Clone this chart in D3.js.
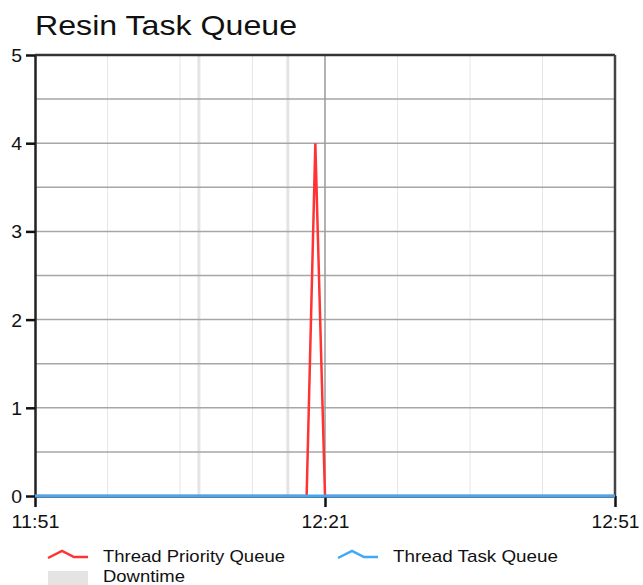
<!DOCTYPE html>
<html>
<head>
<meta charset="utf-8">
<script src="https://cdn.jsdelivr.net/npm/d3@7"></script>
<style>
  body { margin: 0; background: #fff; }
  svg { font-family: "Liberation Sans", Arial, sans-serif; }
</style>
</head>
<body>
<div id="chart"></div>
<script>
// series (minutes after 11:51, value)
const priorityTimes = [0, 10, 20, 28.1, 29, 30, 40, 50, 60];
const priorityValues = [0, 0, 0, 0, 4, 0, 0, 0, 0];
const taskTimes = [0, 10, 20, 30, 40, 50, 60];
const taskValues = [0, 0, 0, 0, 0, 0, 0];
// downtime blips (minutes after 11:51)
const downtimeStart = [16.8, 26.0];
const downtimeEnd = [17.1, 26.3];
const xTickLabels = ["11:51", "12:21", "12:51"];
const yTickValues = [0, 1, 2, 3, 4, 5];

const width = 643, height = 585;
const margin = { top: 55, right: 28, bottom: 89, left: 35 };
const innerW = width - margin.left - margin.right;
const innerH = height - margin.top - margin.bottom;

const t0 = new Date(2020, 0, 1, 11, 51);
const toDate = m => new Date(t0.getTime() + m * 60000);

const svg = d3.select("#chart").append("svg")
  .attr("width", width)
  .attr("height", height);

svg.append("text")
  .attr("x", 35).attr("y", 35)
  .attr("font-size", 28)
  .attr("textLength", 262).attr("lengthAdjust", "spacingAndGlyphs")
  .attr("fill", "#111")
  .text("Resin Task Queue");

const g = svg.append("g")
  .attr("transform", `translate(${margin.left},${margin.top})`);

const x = d3.scaleTime()
  .domain([toDate(0), toDate(60)])
  .range([0, innerW]);
const y = d3.scaleLinear()
  .domain([0, 5])
  .range([innerH, 0]);

// minor vertical grid every 7.5 min
const minor = d3.range(7.5, 60, 7.5).filter(m => m !== 30);
g.selectAll(".vminor").data(minor).enter().append("line")
  .attr("x1", d => x(toDate(d))).attr("x2", d => x(toDate(d)))
  .attr("y1", 0).attr("y2", innerH)
  .attr("stroke", "#e6e6e6").attr("stroke-width", 1);

// downtime bands
g.selectAll(".down").data(downtimeStart).enter().append("rect")
  .attr("x", (d, i) => x(toDate(d)))
  .attr("width", (d, i) => Math.max(3, x(toDate(downtimeEnd[i])) - x(toDate(d))))
  .attr("y", 0).attr("height", innerH)
  .attr("fill", "#e4e4e4");

// horizontal grid every 0.5
g.selectAll(".hgrid").data(d3.range(0.5, 5, 0.5)).enter().append("line")
  .attr("x1", 0).attr("x2", innerW)
  .attr("y1", d => y(d)).attr("y2", d => y(d))
  .attr("stroke", "#a6a6a6").attr("stroke-width", 1.5);

// major vertical at 12:21
g.append("line")
  .attr("x1", x(toDate(30))).attr("x2", x(toDate(30)))
  .attr("y1", 0).attr("y2", innerH)
  .attr("stroke", "#999").attr("stroke-width", 1.5);

// borders
g.append("line").attr("x1", 0).attr("x2", innerW).attr("y1", 0).attr("y2", 0)
  .attr("stroke", "#333").attr("stroke-width", 2.5);
g.append("line").attr("x1", innerW).attr("x2", innerW).attr("y1", 0).attr("y2", innerH)
  .attr("stroke", "#444").attr("stroke-width", 2.5);

// axes
const yAxis = g.append("g")
  .call(d3.axisLeft(y).tickValues(yTickValues).tickFormat(d3.format("d")).tickSize(9).tickSizeOuter(0));
const xAxis = g.append("g")
  .attr("transform", `translate(0,${innerH})`)
  .call(d3.axisBottom(x)
    .tickValues([toDate(0), toDate(30), toDate(60)])
    .tickFormat((d, i) => xTickLabels[i])
    .tickSize(11).tickSizeOuter(0));
[yAxis, xAxis].forEach(a => {
  a.select(".domain").attr("stroke", "#222").attr("stroke-width", 2.5);
  a.selectAll(".tick line").attr("stroke", "#111").attr("stroke-width", 2.5);
  a.selectAll(".tick text").attr("font-size", 18).attr("fill", "#111")
    .attr("font-family", "Liberation Sans, Arial, sans-serif");
});
yAxis.selectAll(".tick text").attr("x", -12).attr("dy", "0.36em")
  .attr("transform", "scale(1.08,1)");
xAxis.selectAll(".tick text").attr("y", 19).attr("dy", "0.71em")
  .attr("textLength", 48).attr("lengthAdjust", "spacingAndGlyphs");

// lines
const line = d3.line()
  .x(d => x(toDate(d[0])))
  .y(d => y(d[1]));

g.append("path")
  .datum(priorityTimes.map((t, i) => [t, priorityValues[i]]))
  .attr("d", line)
  .attr("fill", "none")
  .attr("stroke", "#ff3333")
  .attr("stroke-width", 2.5);

g.append("path")
  .datum(taskTimes.map((t, i) => [t, taskValues[i]]))
  .attr("d", line)
  .attr("fill", "none")
  .attr("stroke", "#3fa9f5")
  .attr("stroke-width", 3);

// legend
const legendItems = [
  { label: "Thread Priority Queue", color: "#ff3333", x: 48, y: 556, type: "line", len: 182 },
  { label: "Thread Task Queue", color: "#3fa9f5", x: 338, y: 556, type: "line", len: 165 },
  { label: "Downtime", color: "#e4e4e4", x: 48, y: 576, type: "rect", len: 82 }
];
const leg = svg.append("g");
legendItems.forEach(it => {
  if (it.type === "line") {
    leg.append("path")
      .attr("d", `M${it.x},${it.y + 2} L${it.x + 14},${it.y - 5} L${it.x + 26},${it.y + 1} L${it.x + 40},${it.y + 1}`)
      .attr("fill", "none").attr("stroke", it.color).attr("stroke-width", 2.5);
  } else {
    leg.append("rect")
      .attr("x", it.x).attr("y", it.y - 5).attr("width", 40).attr("height", 14)
      .attr("fill", it.color);
  }
  leg.append("text")
    .attr("x", it.x + 55).attr("y", it.y + 6)
    .attr("font-size", 17).attr("fill", "#111")
    .attr("textLength", it.len).attr("lengthAdjust", "spacingAndGlyphs")
    .text(it.label);
});
</script>
</body>
</html>
